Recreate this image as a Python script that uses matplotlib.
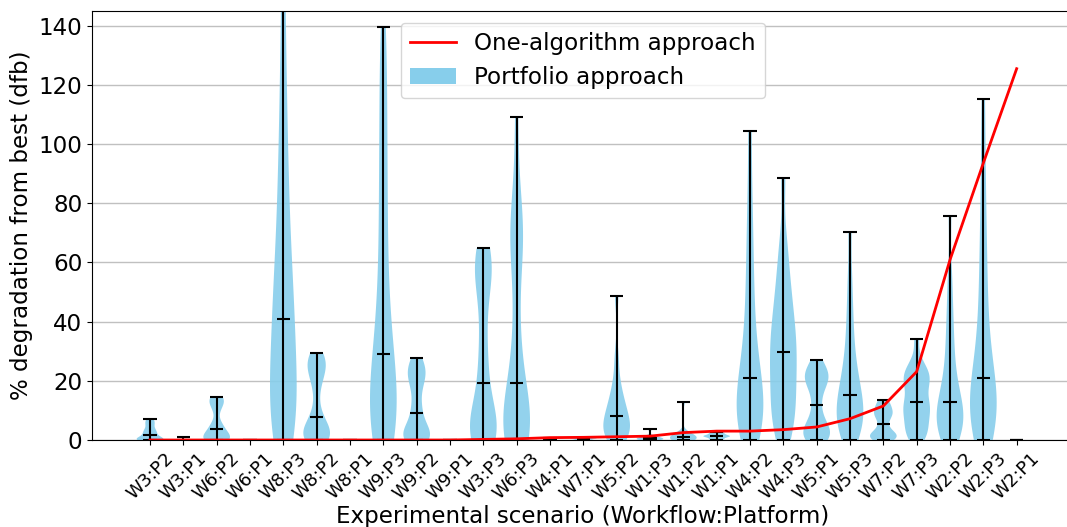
import matplotlib
matplotlib.use("Agg")
import matplotlib.pyplot as plt
from matplotlib.patches import Patch
from matplotlib.lines import Line2D

scenarios = ["W3:P2", "W3:P1", "W6:P2", "W6:P1", "W8:P3", "W8:P2", "W8:P1",
             "W9:P3", "W9:P2", "W9:P1", "W3:P3", "W6:P3", "W4:P1", "W7:P1",
             "W5:P2", "W1:P3", "W1:P2", "W1:P1", "W4:P2", "W4:P3", "W5:P1",
             "W5:P3", "W7:P2", "W7:P3", "W2:P2", "W2:P3", "W2:P1"]

# One-algorithm approach (dfb)
one_algorithm = [0, 0, 0, 0, 0, 0, 0, 0, 0, 0, 0.2, 0.4, 0.8, 0.9, 1.1, 1.3,
                 2.5, 3.0, 3.0, 3.5, 4.4, 7.2, 11.5, 23.1, 60.9, 93.6, 125.5]

# Portfolio approach samples (dfb), estimated per scenario
w3_p2 = [0, 0, 0, 0.2, 0.5, 0.9, 1.7, 2.4, 3.0, 3.8, 5, 6, 7.0]
w3_p1 = [0, 0, 0, 0, 0, 0, 0.9]
w6_p2 = [0, 0, 0, 0.5, 1, 1.5, 2.2, 3.7, 4.5, 6, 10, 12, 13, 14, 14.6]
w6_p1 = [0, 0, 0, 0.01]
w8_p3 = [0, 1.5, 4, 6.5, 9, 12, 15, 19, 23, 28, 33, 38, 41, 45, 50, 56, 62,
         69, 77, 86, 96, 108, 122, 140, 165]
w8_p2 = [0, 0, 0.5, 1, 1.5, 2, 2.5, 3.5, 4.5, 6, 7.7, 11, 17, 20, 22, 24, 25,
         26, 27, 28, 29.3]
w8_p1 = [0, 0, 0, 0.01]
w9_p3 = [0, 0, 1.5, 3.5, 5.5, 8, 10.5, 13, 16, 19, 22.5, 26, 29, 34, 40, 47,
         55, 64, 74, 84, 94, 105, 116, 128, 139.5]
w9_p2 = [0, 0, 0.5, 1.5, 2.5, 3.5, 5.5, 9.2, 12, 17, 20, 22, 23.5, 25, 27.8]
w9_p1 = [0, 0, 0, 0.01]
w3_p3 = [0, 0, 0.5, 1.5, 2.5, 4, 5.5, 7, 9, 12, 19.4, 24, 30, 38, 47, 53, 56,
         58.5, 60.5, 62.5, 64.8]
w6_p3 = [0, 0, 0.5, 1.5, 3, 4.5, 6.5, 8.5, 11, 14.5, 19.2, 25, 33, 45, 58, 65,
         69, 72, 76, 88, 109.1]
w4_p1 = [0, 0.2, 0.4, 0.5, 0.6, 0.7, 0.8]
w7_p1 = [0, 0.1, 0.3, 0.4, 0.5, 0.6, 0.8]
w5_p2 = [0, 1, 2, 3, 3.8, 4.6, 5.8, 8.1, 9.5, 11, 13, 16, 20, 28, 48.8]
w1_p3 = [0, 0, 0.2, 0.4, 0.6, 0.8, 1, 1.5, 3.7]
w1_p2 = [0, 0, 0.2, 0.4, 0.6, 0.9, 1.1, 1.4, 1.8, 2.5, 13.0]
w1_p1 = [0, 0.3, 0.7, 1.0, 1.2, 1.35, 1.5, 1.8, 2.1, 2.5, 2.8]
w4_p2 = [0, 1.5, 3.5, 5.5, 7.5, 9.5, 11.5, 13.5, 16, 18.5, 21.1, 24, 28, 33,
         39, 46, 54, 63, 73, 86, 104.3]
w4_p3 = [0, 3, 6, 9, 12, 15, 18, 21, 24, 27, 29.6, 32, 35, 38, 41, 45, 49, 54,
         60, 68, 88.5]
w5_p1 = [0, 0.5, 1.5, 2.5, 3.5, 5, 7.5, 11.7, 16, 19, 20.5, 21.5, 22.5, 24,
         27.0]
w5_p3 = [0, 1.5, 3, 4.5, 6, 7.5, 9, 10.5, 12, 13.5, 15.2, 17, 19.5, 22, 25,
         29, 34, 40, 47, 56, 70.4]
w7_p2 = [0, 0.5, 1, 1.5, 2.2, 3, 5.3, 7.5, 8.5, 9.5, 10.5, 12, 13.4]
w7_p3 = [0, 1, 2.5, 4, 5.5, 7, 8.5, 10, 11, 12, 12.9, 15, 17, 18.5, 20, 21,
         22, 23, 24.5, 27, 34.2]
w2_p2 = [0, 1.2, 2.5, 3.8, 5, 6.3, 7.6, 8.9, 10.2, 11.5, 12.7, 15, 18, 21, 25,
         30, 35, 41, 48, 57, 75.8]
w2_p3 = [0, 2, 4, 6, 8, 10, 12, 14, 16, 18.5, 21.1, 25, 30, 36, 43, 51, 60,
         70, 82, 97, 115.3]
w2_p1 = [0, 0, 0, 0.01]

portfolio = [w3_p2, w3_p1, w6_p2, w6_p1, w8_p3, w8_p2, w8_p1, w9_p3, w9_p2,
             w9_p1, w3_p3, w6_p3, w4_p1, w7_p1, w5_p2, w1_p3, w1_p2, w1_p1,
             w4_p2, w4_p3, w5_p1, w5_p3, w7_p2, w7_p3, w2_p2, w2_p3, w2_p1]

W, H = 1067, 527
fig = plt.figure(figsize=(W / 100, H / 100), dpi=100)
ax = fig.add_axes([92 / W, (H - 440) / H, (1074 - 92) / W, (440 - 11) / H])

positions = list(range(1, len(scenarios) + 1))
parts = ax.violinplot(portfolio, positions=positions, widths=0.8,
                      showmedians=True, bw_method=0.35)
for body in parts["bodies"]:
    body.set_facecolor("skyblue")
    body.set_edgecolor("none")
    body.set_alpha(0.9)
for key in ("cbars", "cmins", "cmaxes", "cmedians"):
    parts[key].set_color("black")
    parts[key].set_linewidth(1.5)

ax.plot(positions, one_algorithm, color="red", linewidth=2)

ax.set_ylim(0, 145)
ax.set_xlim(1 - 1.74, len(scenarios) + 1.72)
ax.set_xticks(positions)
ax.set_xticklabels(scenarios, rotation=45, fontsize=13)
ax.tick_params(axis="y", labelsize=16.6)
ax.yaxis.grid(True, color="#c0c0c0", linewidth=1)
ax.set_axisbelow(True)
ax.set_xlabel("Experimental scenario (Workflow:Platform)", fontsize=16.6,
              labelpad=1)
ax.set_ylabel("% degradation from best (dfb)", fontsize=16.6)

handles = [Line2D([0], [0], color="red", linewidth=2),
           Patch(facecolor="skyblue")]
ax.legend(handles, ["One-algorithm approach", "Portfolio approach"],
          loc="upper center", fontsize=16.6)

fig.savefig("out.png", dpi=100)
